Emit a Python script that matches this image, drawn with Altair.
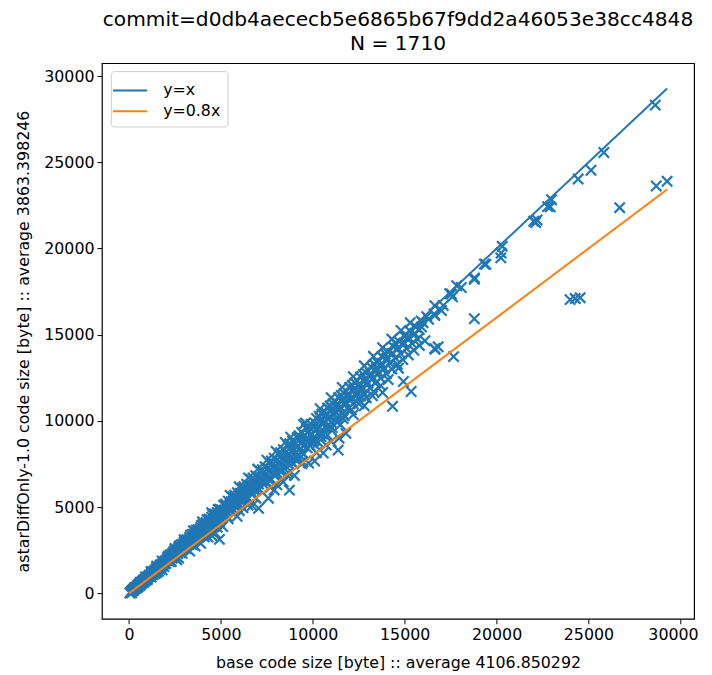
import altair as alt
import pandas as pd

TITLE = ["commit=d0db4aececb5e6865b67f9dd2a46053e38cc4848", "N = 1710"]
X_TITLE = "base code size [byte] :: average 4106.850292"
Y_TITLE = "astarDiffOnly-1.0 code size [byte] :: average 3863.398246"
TICKS = [0, 5000, 10000, 15000, 20000, 25000, 30000]
DOMAIN = [-1475, 30750]

SERIES = ["y=x", "y=0.8x"]
COLORS = ["#1f77b4", "#ff7f0e"]
LINE_X = [0, 29280]
LINE_Y_EQ = [0, 29280]
LINE_Y_08 = [0, 23424]

# scatter points (base size, astarDiffOnly size)
small = [(50, 20), (120, 110), (180, 160), (240, 230), (300, 270), (350, 330), (420, 370), (480, 460),
         (520, 500), (600, 540), (650, 630), (700, 660), (760, 700), (820, 800), (880, 820), (950, 900),
         (1000, 960), (1050, 940), (1100, 1060), (1180, 1080), (1230, 1180), (1300, 1200), (1350, 1290),
         (1420, 1300), (1480, 1420), (1550, 1420), (1600, 1540), (1650, 1500), (1720, 1650), (1780, 1620),
         (1850, 1780), (1900, 1730), (1960, 1880), (500, 380), (900, 740), (1300, 1080), (1700, 1400),
         (250, 180), (700, 580), (1500, 1300),
         (100, 60), (200, 200), (330, 290), (450, 420), (560, 540), (680, 610), (780, 760), (850, 760),
         (980, 860), (1080, 1000), (1150, 1020), (1260, 1240), (1380, 1230), (1450, 1360), (1530, 1500),
         (1620, 1440), (1690, 1630), (1760, 1560), (1830, 1700), (1920, 1790), (1980, 1720),
         (150, 40), (400, 300), (600, 460), (800, 640), (1000, 800), (1200, 950), (1400, 1150),
         (1600, 1280), (1900, 1560), (300, 330), (600, 640), (900, 950), (1200, 1260), (1500, 1570),
         (1800, 1880)]

mid = [(2100, 2080), (2250, 2230), (2400, 2350), (2550, 2520), (2700, 2660), (2850, 2830), (3000, 2950),
       (3150, 3120), (3300, 3240), (3450, 3420), (3600, 3540), (3750, 3700), (3900, 3830), (4050, 4000),
       (4200, 4120), (4350, 4300), (4500, 4420), (4650, 4600), (4800, 4700), (4950, 4880),
       (2150, 1980), (2300, 2100), (2450, 2260), (2600, 2380), (2750, 2530), (2900, 2660), (3050, 2800),
       (3200, 2950), (3350, 3070), (3500, 3220), (3650, 3350), (3800, 3500), (3950, 3620), (4100, 3770),
       (4250, 3900), (4400, 4050), (4550, 4180), (4700, 4330), (4850, 4450), (5000, 4600),
       (2200, 1850), (2500, 2100), (2800, 2350), (3100, 2600), (3400, 2850), (3700, 3110), (4000, 3360),
       (4300, 3610), (4600, 3860), (4900, 4110),
       (2500, 2600), (3500, 3640), (4500, 4680), (3000, 3120), (4000, 4150),
       (2600, 1950), (3300, 2450), (3900, 2900), (4500, 3350), (4920, 3130), (4700, 3500),
       (2150, 2170), (2450, 2450), (2750, 2760), (3050, 3060), (3350, 3370), (3650, 3660), (3950, 3960),
       (4250, 4270), (4550, 4560), (4850, 4870)]

large = [(5150, 5120), (5400, 5350), (5650, 5600), (5900, 5840), (6150, 6100), (6400, 6330), (6650, 6600),
         (6900, 6830), (7150, 7080), (7400, 7350), (7650, 7570), (7900, 7840), (8150, 8060), (8400, 8330),
         (8650, 8560), (8900, 8830), (9150, 9050), (9400, 9330), (9650, 9560), (9900, 9800),
         (5100, 4750), (5350, 4980), (5600, 5200), (5850, 5450), (6100, 5680), (6350, 5900), (6600, 6140),
         (6850, 6370), (7100, 6600), (7350, 6840), (7600, 7070), (7850, 7300), (8100, 7530), (8350, 7770),
         (8600, 8000), (8850, 8230), (9100, 8460), (9350, 8700), (9600, 8930), (9850, 9160),
         (5200, 4520), (5500, 4790), (5800, 5050), (6100, 5310), (6400, 5570), (6700, 5830), (7000, 6090),
         (7300, 6350), (7600, 6610), (7900, 6870), (8200, 7130), (8500, 7400), (8800, 7660), (9100, 7920),
         (9400, 8180), (9700, 8440), (10000, 8700),
         (5500, 5680), (6500, 6700), (7500, 7730), (8500, 8760), (9500, 9800),
         (5880, 4470), (6470, 5120), (7050, 4930), (8390, 6470), (8040, 6300), (8680, 6990), (9120, 7680),
         (9770, 7560), (7585, 5520), (8730, 5990), (9470, 7620), (6000, 4800)]

xlarge = [(10200, 10150), (10500, 10400), (10800, 10750), (11100, 11000), (11400, 11350), (11700, 11600),
          (12000, 11950), (12300, 12200), (12600, 12550), (12900, 12800), (13200, 13100), (13500, 13400),
          (13800, 13700), (14100, 14000), (14400, 14300), (14700, 14600), (15000, 14900), (15300, 15200),
          (15600, 15450), (15900, 15800), (16200, 16050),
          (10300, 9700), (10600, 9950), (10900, 10250), (11200, 10550), (11500, 10800), (11800, 11100),
          (12100, 11350), (12400, 11650), (12700, 11950), (13000, 12200), (13300, 12500), (13600, 12800),
          (13900, 13050), (14200, 13350), (14500, 13650), (14800, 13900), (15100, 14200), (15400, 14500),
          (15700, 14750),
          (10100, 8900), (10500, 9250), (10900, 9600), (11300, 9950), (11700, 10300), (12100, 10650),
          (12500, 11000), (12900, 11350), (13300, 11700), (13700, 12050), (14100, 12400),
          (11800, 9280), (11430, 9000), (11380, 8310), (10730, 8600), (10030, 8820), (10570, 8140),
          (16650, 14150), (14660, 13060), (14930, 12290), (15350, 11710), (14340, 10850), (13800, 11650),
          (13250, 11460), (12600, 11450),
          (14000, 13600), (14300, 13900), (14600, 14200), (15000, 14500), (15200, 14800), (15500, 15000),
          (15800, 15300), (16000, 15700), (16300, 15900), (16600, 16200), (17100, 16700), (17600, 17200)]

fill_96 = [(2050, 1960), (2350, 2270), (2650, 2540), (2950, 2850), (3250, 3110), (3550, 3420), (3850, 3690),
           (4150, 4000), (4450, 4260), (4750, 4570), (5050, 4840), (5300, 5110), (5550, 5320), (5800, 5580),
           (6050, 5800), (6300, 6060), (6550, 6280), (6800, 6540), (7050, 6760), (7300, 7020), (7550, 7240),
           (7800, 7500), (8050, 7720), (8300, 7980), (8550, 8200), (8800, 8460), (9050, 8680), (9300, 8940),
           (9550, 9160), (9800, 9420), (10050, 9640), (10400, 9990), (10700, 10270), (11000, 10570),
           (11300, 10840), (11600, 11150), (11900, 11420), (12200, 11720), (12500, 11990), (12800, 12300),
           (13100, 12570), (13400, 12880), (13700, 13150)]

fill_93 = [(2200, 2050), (2500, 2330), (2800, 2600), (3100, 2890), (3400, 3160), (3700, 3440), (4000, 3720),
           (4300, 4000), (4600, 4280), (4900, 4560), (5200, 4840), (5450, 5070), (5700, 5300), (5950, 5530),
           (6200, 5770), (6450, 6000), (6700, 6230), (6950, 6460), (7200, 6700), (7450, 6930), (7700, 7160),
           (7950, 7390), (8200, 7630), (8450, 7860), (8700, 8090), (8950, 8320), (9200, 8560), (9450, 8790),
           (9700, 9020), (9950, 9250), (10250, 9530), (10550, 9810), (10850, 10090), (11150, 10370),
           (11450, 10650), (11750, 10930), (12050, 11210), (12350, 11490), (12650, 11760)]

fill_90 = [(2100, 1890), (2400, 2170), (2700, 2420), (3000, 2710), (3300, 2960), (3600, 3250), (3900, 3500),
           (4200, 3790), (4500, 4040), (4800, 4330), (5050, 4540), (5300, 4780), (5550, 4990), (5800, 5230),
           (6050, 5440), (6300, 5680), (6550, 5890), (6800, 6130), (7050, 6340), (7300, 6580), (7550, 6790),
           (7800, 7030), (8050, 7240), (8300, 7480), (8550, 7690), (8800, 7930), (9050, 8140), (9300, 8380),
           (9550, 8590), (9800, 8830), (10050, 9040), (10400, 9370), (10700, 9620), (11000, 9910),
           (11300, 10160), (11600, 10450), (11900, 10700), (12200, 10990), (12500, 11240), (12800, 11530)]

fill_87 = [(2000, 1740), (2350, 2040), (2650, 2310), (2950, 2570), (3250, 2830), (3550, 3090), (3850, 3350),
           (4150, 3610), (4450, 3870), (4750, 4130), (5000, 4350), (5650, 4920), (6250, 5440), (6850, 5960),
           (7450, 6480), (8050, 7000), (8650, 7530), (9250, 8050), (9850, 8570), (10450, 9090),
           (11050, 9610), (11650, 10140)]

fill_99 = [(5250, 5180), (5750, 5690), (6250, 6180), (6750, 6690), (7250, 7170), (7750, 7680), (8250, 8160),
           (8750, 8680), (9250, 9150), (9750, 9680), (10350, 10280), (10950, 10880), (11550, 11480),
           (12150, 12080), (12750, 12680), (13350, 13280), (13950, 13880)]

fill_103 = [(6000, 6180), (7000, 7210), (8000, 8240), (8800, 9060), (9600, 9890), (10400, 10710),
            (11000, 11350), (11600, 11950), (12200, 12570), (12800, 13200), (13300, 13750), (13800, 14250),
            (14300, 14750), (14800, 15250), (15300, 15700)]

fill_97b = [(10150, 9850), (10450, 10140), (10750, 10430), (11050, 10720), (11350, 11010), (11650, 11300),
            (11950, 11590), (12250, 11880), (12550, 12170), (12850, 12460), (13150, 12760), (13450, 13050),
            (13750, 13340), (14050, 13630), (14350, 13920), (14650, 14210), (14950, 14500), (15250, 14790),
            (15550, 15080),
            (13100, 11920), (13400, 12190), (13700, 12470), (14000, 12740), (14300, 13010), (14600, 13290),
            (14900, 13560), (15200, 13830), (15500, 14100), (15800, 14380), (16100, 14650)]

fill_85 = [(5300, 4500), (5900, 5020), (6500, 5520), (7100, 6040), (7700, 6550), (8300, 7060), (8900, 7570),
           (9500, 8080), (10300, 8760), (10800, 9180), (11500, 9780), (12200, 10370), (12800, 10880)]

fill_80 = [(1500, 1200), (2300, 1840), (2900, 2320), (3500, 2800), (4100, 3280), (4800, 3840), (5400, 4320),
           (6200, 4960), (6900, 5520), (7700, 6160), (8600, 6880), (9400, 7520), (10200, 8160), (11000, 8800)]

fill_76 = [(1800, 1370), (2700, 2050), (3600, 2740), (4300, 3270), (5100, 3880), (6700, 5090), (7900, 6000),
           (9000, 6840), (10100, 7680)]

tail = [(15920, 15450), (16640, 16120), (17000, 16400), (17540, 17360), (18080, 17740), (18790, 18220),
        (19420, 19080), (20310, 20130), (20230, 19460), (20250, 19740), (22020, 21580), (22200, 21660),
        (22920, 22420), (15190, 14880), (14490, 14510), (13770, 13730), (17830, 17840), (17450, 17380),
        (16640, 16690), (19340, 19100), (18800, 18300),
        (18790, 15930), (16640, 14210), (16820, 14300), (17660, 13730),
        (24000, 17040), (24280, 17100), (24550, 17150),
        (25840, 25570), (25140, 24540), (24440, 24030), (22990, 22830), (22780, 22430), (22130, 21510),
        (26700, 22370), (28690, 23630), (29280, 23900), (28640, 28320)]

pts = (small + mid + large + xlarge + fill_96 + fill_93 + fill_90 + fill_87 + fill_99 + fill_103
       + fill_97b + fill_85 + fill_80 + fill_76 + tail)
scatter_df = pd.DataFrame(pts, columns=["base", "astar"])

line_df = pd.DataFrame({
    "x": LINE_X + LINE_X,
    "y": LINE_Y_EQ + LINE_Y_08,
    "series": [SERIES[0]] * 2 + [SERIES[1]] * 2,
})

FONT = "DejaVu Sans"
xscale = alt.Scale(domain=DOMAIN, nice=False, zero=False)
yscale = alt.Scale(domain=DOMAIN, nice=False, zero=False)

xaxis = alt.Axis(title=X_TITLE, values=TICKS, format="d", grid=False, domain=False,
                 tickColor="black", tickSize=5, labelColor="black", labelFontSize=16,
                 labelFont=FONT, titleFont=FONT, titleFontSize=16, titleFontWeight="normal",
                 titleColor="black", labelPadding=3, titlePadding=12,
                 labelFlush=20, labelFlushOffset=18)
yaxis = alt.Axis(title=Y_TITLE, values=TICKS, format="d", grid=False, domain=False,
                 tickColor="black", tickSize=5, labelColor="black", labelFontSize=16,
                 labelFont=FONT, titleFont=FONT, titleFontSize=16, titleFontWeight="normal",
                 titleColor="black", labelPadding=3, titlePadding=12, labelFlush=False)

scatter = alt.Chart(scatter_df).mark_point(
    shape="M-1,-1L1,1M-1,1L1,-1", filled=False, size=110, strokeWidth=2.2,
    color=COLORS[0], opacity=1
).encode(
    x=alt.X("base:Q", scale=xscale, axis=xaxis),
    y=alt.Y("astar:Q", scale=yscale, axis=yaxis),
)

lines = alt.Chart(line_df).mark_line(strokeWidth=2, clip=True).encode(
    x=alt.X("x:Q", scale=xscale),
    y=alt.Y("y:Q", scale=yscale),
    color=alt.Color("series:N", sort=SERIES,
                    scale=alt.Scale(domain=SERIES, range=COLORS),
                    legend=alt.Legend(title=None, orient="none", legendX=9, legendY=8,
                                      symbolType="M-1.5,0L1.5,0", symbolSize=529, symbolStrokeWidth=2,
                                      labelFontSize=16, labelFont=FONT, labelColor="black",
                                      labelOffset=21, rowPadding=0, padding=7,
                                      strokeColor="#cccccc", fillColor="white",
                                      cornerRadius=3)),
    detail="series:N",
)

chart = alt.layer(scatter, lines).properties(
    width=599, height=562,
    title=alt.TitleParams(TITLE, font=FONT, fontSize=20.4, fontWeight="normal", color="black",
                          anchor="middle", offset=9, lineHeight=24),
    padding={"left": 95, "top": 52, "right": 10, "bottom": 53},
    autosize=alt.AutoSizeParams(type="none"),
).configure_view(stroke="black", strokeWidth=1.2)

chart.save("out.html", embed_options={"renderer": "svg", "actions": False})
